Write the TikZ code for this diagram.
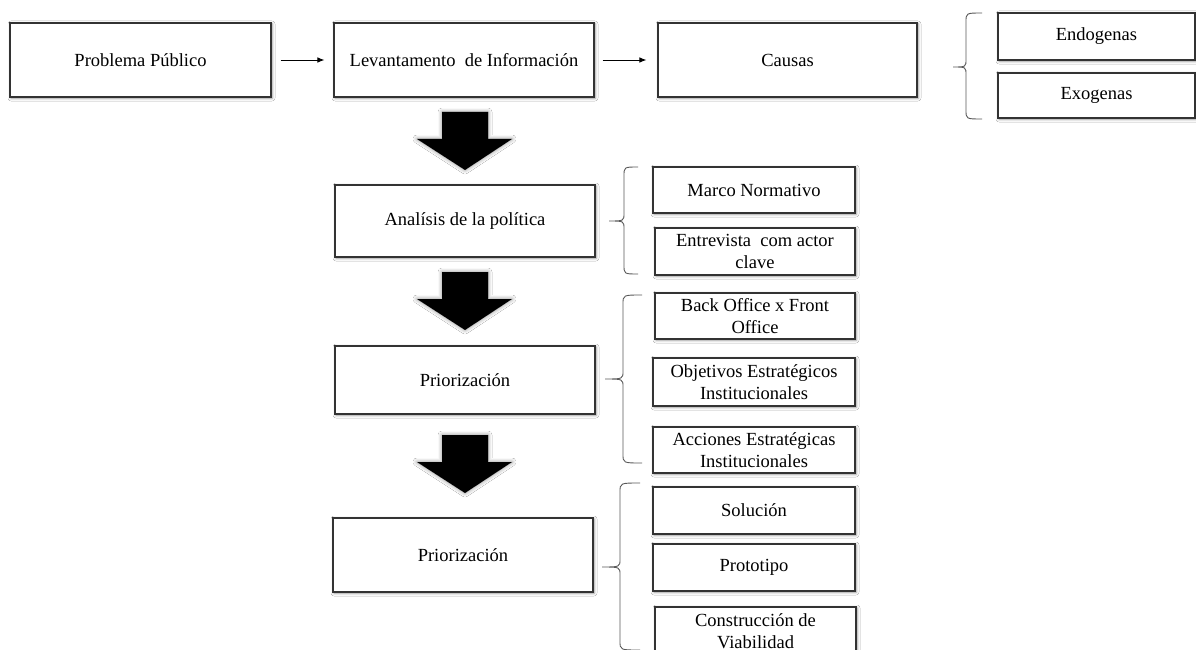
\documentclass[tikz,border=0pt]{standalone}
\usepackage{fontspec}
\setmainfont{Liberation Serif}
\usetikzlibrary{arrows.meta,shadows,shadows.blur}
\newcommand\myBrace[6]{%
  \draw[bracel] (#1,#4) .. controls (#2,#4) .. (#2,#4+9) -- (#2,#5-8)
    .. controls (#2,#5) .. (#3,#5) .. controls (#2,#5) .. (#2,#5+8)
    -- (#2,#6-9) .. controls (#2,#6) .. (#1,#6);}
\newcommand\bigArrow[1]{%
  \begin{scope}[shift={(0,#1)}]
    \fill[black, blur shadow={shadow xshift=0pt, shadow yshift=0pt, shadow blur radius=4pt, shadow opacity=45, shadow blur steps=8}]
      (442,112) -- (488,112) -- (488,139) -- (512,139) -- (465,170) -- (417,139) -- (442,139) -- cycle;
  \end{scope}}
\begin{document}
\begin{tikzpicture}[x=1pt, y=-1pt,
  box/.style={draw=black!80, line width=1.1pt, fill=white, align=center, inner sep=2pt,
    font=\fontsize{18.5}{22}\selectfont,
    blur shadow={shadow xshift=1pt, shadow yshift=-1pt, shadow blur radius=3pt, shadow opacity=40, shadow blur steps=6}},
  harrow/.style={draw=black, line width=0.9pt, -{Latex[length=7pt,width=5.5pt]}},
  bracel/.style={draw=black!65, line width=0.9pt}]
\useasboundingbox[fill=white] (0,0) rectangle (1196,650);
\clip (0,0) rectangle (1196,650);

% top row
\node[box, minimum width=261pt, minimum height=74pt] (pp) at (140.5,60) {Problema Público};
\node[box, minimum width=260pt, minimum height=74pt] (lev) at (464,60) {Levantamento~ de Información};
\node[box, minimum width=259pt, minimum height=74pt] (cau) at (787.5,60) {Causas};
\node[box, minimum width=197pt, minimum height=47pt] (endo) at (1096.5,36.5) {Endogenas};
\node[box, minimum width=197pt, minimum height=45pt] (exo) at (1096.5,95.5) {Exogenas};

\draw[harrow, shorten <=9pt, shorten >=9pt] (pp.east) -- (lev.west);
\draw[harrow, shorten <=8pt, shorten >=11pt] (lev.east) -- (cau.west);

% left column
\node[box, minimum width=260pt, minimum height=72pt] (ana) at (465,221) {Analísis de la política};
\node[box, minimum width=260pt, minimum height=68pt] (prio1) at (465,380) {Priorización};
\node[box, minimum width=260pt, minimum height=74pt] (prio2) at (463,555) {Priorización};

% right column
\node[box, minimum width=202pt, minimum height=46pt] (marco) at (754,190) {Marco Normativo};
\node[box, minimum width=200pt, minimum height=47pt] (entre) at (755,251.5) {Entrevista~ com actor\\clave};
\node[box, minimum width=200pt, minimum height=46pt] (back) at (755,316) {Back Office x Front\\Office};
\node[box, minimum width=202pt, minimum height=48pt] (obj) at (754,382) {Objetivos Estratégicos\\Institucionales};
\node[box, minimum width=202pt, minimum height=46pt] (acc) at (754,450) {Acciones Estratégicas\\Institucionales};
\node[box, minimum width=202pt, minimum height=47pt] (sol) at (754,510.5) {Solución};
\node[box, minimum width=202pt, minimum height=47pt] (proto) at (754,567.5) {Prototipo};
\node[box, minimum width=201pt, minimum height=48pt] (cons) at (755.5,631) {Construcción de\\Viabilidad};

% big arrows
\bigArrow{0}
\bigArrow{160}
\bigArrow{323}

% braces
\myBrace{982}{966}{953}{13}{67}{119}
\myBrace{638}{624}{609}{167}{221}{274}
\myBrace{642}{623}{605}{295}{379}{463}
\myBrace{640}{620}{602}{483}{567}{650}
\end{tikzpicture}
\end{document}
